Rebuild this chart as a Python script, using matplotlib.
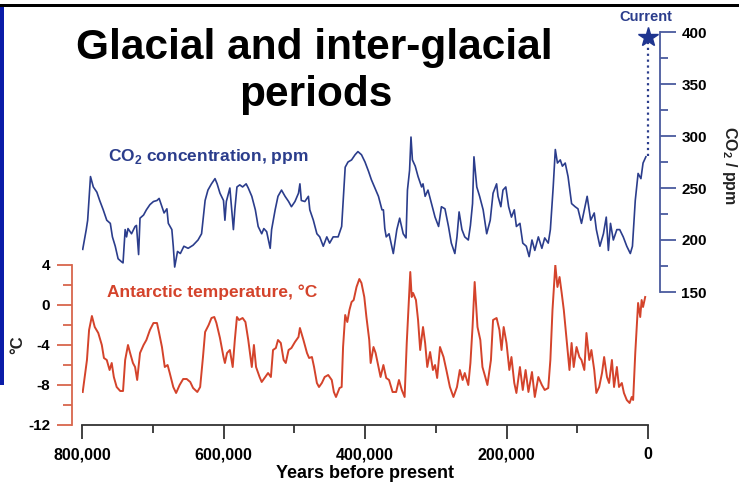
import numpy as np
import matplotlib
matplotlib.use("Agg")
from matplotlib import pyplot as plt
from matplotlib.patches import Rectangle
from matplotlib.ticker import MultipleLocator, StrMethodFormatter

plt.rcParams['font.family'] = ['Liberation Sans', 'DejaVu Sans']
plt.rcParams['font.weight'] = 'bold'
plt.rcParams['axes.unicode_minus'] = False
plt.rcParams['mathtext.fontset'] = 'custom'
plt.rcParams['mathtext.rm'] = 'Liberation Sans:bold'
plt.rcParams['mathtext.bf'] = 'Liberation Sans:bold'

# CO2 record (age in kyr before present, ppm)
co2_age = [799, 794, 792, 788, 784, 779, 775, 770, 765, 760, 757, 753, 749, 744, 742,
           739, 737, 735, 730, 725, 723, 720, 718, 713, 709, 704, 699, 694, 691, 687,
           684, 680, 678, 673, 671, 669, 665, 661, 656, 650, 643, 636, 631, 626, 622,
           617, 612, 609, 605, 600, 598, 596, 593, 591, 588, 586, 584, 581, 577, 573,
           568, 565, 560, 555, 551, 546, 543, 539, 534, 532, 527, 523, 518, 513, 508,
           504, 499, 494, 492, 490, 485, 480, 478, 473, 468, 464, 459, 454, 450, 445,
           438, 433, 428, 424, 419, 414, 410, 405, 400, 395, 391, 386, 381, 376, 374,
           372, 370, 366, 360, 355, 351, 346, 342, 340, 337, 335, 333, 329, 325, 320,
           318, 315, 311, 306, 301, 296, 292, 287, 282, 278, 273, 270, 267, 263, 259,
           254, 251, 248, 246, 242, 238, 233, 228, 223, 219, 214, 212, 208, 205, 201,
           197, 193, 189, 186, 181, 177, 172, 168, 164, 160, 155, 150, 146, 141, 138,
           134, 131, 128, 124, 121, 117, 113, 108, 103, 99, 94, 90, 86, 81, 76,
           73, 68, 63, 59, 56, 53, 49, 44, 40, 35, 30, 25, 22, 18, 14,
           10, 7, 3]
co2_ppm = [191, 210, 219, 261, 251, 246, 238, 229, 219, 216, 203, 194, 182, 179, 178,
           210, 203, 211, 206, 213, 214, 186, 221, 224, 229, 234, 237, 238, 240, 232,
           226, 230, 216, 210, 194, 174, 189, 187, 194, 192, 195, 200, 206, 238, 248,
           254, 259, 254, 245, 238, 219, 237, 245, 250, 226, 210, 229, 251, 253, 251,
           254, 250, 242, 229, 213, 206, 211, 208, 192, 210, 229, 242, 248, 242, 237,
           232, 237, 245, 254, 238, 237, 242, 229, 219, 206, 203, 194, 203, 197, 203,
           203, 213, 270, 275, 277, 282, 285, 282, 275, 266, 258, 250, 242, 229, 229,
           211, 203, 206, 187, 210, 221, 206, 202, 248, 267, 299, 277, 271, 261, 251,
           254, 242, 248, 235, 222, 213, 232, 230, 213, 197, 187, 203, 227, 210, 203,
           200, 214, 235, 280, 251, 242, 229, 206, 219, 245, 254, 242, 232, 248, 251,
           232, 222, 229, 213, 216, 197, 194, 184, 200, 190, 203, 192, 202, 197, 210,
           251, 287, 274, 277, 271, 274, 261, 235, 232, 230, 216, 229, 242, 219, 226,
           210, 194, 206, 222, 190, 216, 200, 210, 210, 203, 194, 187, 194, 238, 264,
           259, 274, 280]

# Antarctic temperature anomaly (age in kyr before present, deg C)
temp_age = [799, 793, 790, 786, 782, 777, 772, 769, 765, 761, 758, 755, 751, 746, 742,
            739, 735, 732, 728, 725, 722, 718, 713, 709, 704, 699, 694, 691, 687, 683,
            679, 676, 671, 667, 662, 657, 652, 647, 643, 637, 633, 629, 626, 621, 617,
            613, 610, 605, 600, 598, 595, 591, 587, 584, 581, 578, 573, 569, 565, 560,
            557, 554, 549, 546, 541, 537, 533, 530, 526, 523, 519, 515, 512, 508, 504,
            499, 494, 492, 487, 482, 479, 475, 472, 468, 465, 461, 457, 452, 447, 444,
            441, 436, 433, 431, 428, 425, 422, 419, 416, 412, 408, 405, 401, 398, 394,
            392, 388, 385, 381, 378, 374, 370, 366, 361, 356, 352, 348, 344, 341, 336,
            334, 332, 328, 325, 322, 318, 315, 312, 308, 304, 301, 298, 294, 289, 285,
            280, 275, 270, 266, 262, 259, 254, 251, 248, 245, 241, 237, 234, 230, 227,
            222, 219, 214, 210, 207, 204, 200, 196, 193, 189, 186, 181, 177, 173, 169,
            164, 160, 155, 150, 146, 141, 138, 135, 131, 128, 125, 122, 119, 115, 111,
            108, 105, 101, 97, 94, 90, 87, 83, 80, 76, 73, 69, 65, 62, 58,
            55, 51, 48, 44, 41, 37, 34, 30, 26, 23, 21, 18, 16, 14, 11,
            9, 7, 4]
temp_c = [-8.7, -5.5, -2.5, -1.1, -2.2, -2.8, -4.0, -5.3, -5.5, -6.5, -5.8, -7.2, -8.2, -8.6, -8.6,
          -5.5, -4.0, -4.8, -5.8, -6.2, -7.5, -4.8, -4.0, -3.5, -2.5, -1.8, -1.8, -2.8, -4.2, -6.2,
          -6.0, -6.8, -8.2, -8.8, -8.0, -7.4, -7.4, -7.7, -8.3, -8.7, -8.2, -5.2, -2.7, -2.0, -1.3,
          -1.2, -1.8, -3.3, -5.2, -5.8, -4.8, -4.5, -6.2, -3.5, -1.2, -1.5, -1.3, -1.7, -3.5, -6.2,
          -4.0, -6.2, -7.2, -7.7, -7.2, -6.8, -7.2, -4.5, -4.3, -3.5, -3.8, -5.5, -5.8, -4.5, -4.3,
          -3.7, -3.2, -2.3, -3.5, -4.8, -5.3, -5.2, -6.2, -7.8, -8.2, -7.8, -7.2, -7.0, -7.5, -8.7,
          -9.2, -8.3, -8.2, -4.2, -1.0, -1.7, -0.5, 0.3, 0.5, 1.8, 2.6, 2.2, 0.8, -1.2, -3.5,
          -5.8, -4.2, -4.8, -6.2, -7.2, -6.0, -7.3, -7.5, -8.7, -8.7, -7.5, -8.5, -9.2, -3.8, 3.3,
          0.8, 1.2, 0.5, -1.5, -4.5, -2.2, -3.8, -6.2, -4.7, -6.5, -6.0, -7.3, -4.2, -5.2, -6.5,
          -8.2, -9.2, -8.2, -6.5, -7.5, -6.8, -8.0, -5.8, -2.2, 2.3, -2.2, -3.5, -6.2, -7.2, -8.0,
          -5.5, -1.5, -1.3, -2.5, -4.5, -2.2, -3.8, -6.5, -5.2, -7.8, -8.8, -6.2, -8.5, -6.5, -8.7,
          -6.7, -9.2, -7.2, -8.0, -8.5, -8.3, -5.5, -0.5, 4.0, 1.8, 2.8, 1.2, -0.5, -3.5, -6.5,
          -3.8, -6.2, -4.2, -5.2, -5.5, -6.5, -2.8, -5.5, -4.5, -6.5, -8.8, -8.2, -6.8, -5.2, -7.2,
          -7.8, -5.5, -8.2, -6.2, -8.2, -7.8, -8.8, -9.5, -9.8, -9.2, -9.5, -4.8, -2.2, 0.2, -1.2,
          0.5, -0.2, 0.8]

current_ppm = 395
co2_last_ppm = 281

W, H = 739, 483
blue = '#2b3d8c'
red = '#d4432b'
red_axis = '#d8664c'
blue_axis = '#4a5b9e'


def fx(x):
    return x / W


def fy(y):
    return 1 - y / H


fig = plt.figure(figsize=(W / 100, H / 100), dpi=100)

# slide decorations: black top rule and blue left bar
fig.add_artist(Rectangle((0, fy(7)), 1, 3 / H, transform=fig.transFigure, color='black', lw=0))
fig.add_artist(Rectangle((0, fy(385)), 4 / W, 378 / H, transform=fig.transFigure, color='#0a1ca8', lw=0))

ax_t = fig.add_axes([fx(82), fy(425), fx(648) - fx(82), fy(265) - fy(425)])
ax_c = fig.add_axes([fx(82), fy(292), fx(648) - fx(82), fy(32) - fy(292)])
for ax in (ax_t, ax_c):
    ax.patch.set_alpha(0)
    ax.set_xlim(800000, 0)

# temperature
ax_t.plot(np.array(temp_age) * 1000, temp_c, color=red, lw=1.4)
ax_t.set_ylim(-12, 4)
ax_t.spines['top'].set_visible(False)
ax_t.spines['right'].set_visible(False)
ax_t.spines['left'].set_position(('outward', 7.2))
ax_t.spines['left'].set_color(red_axis)
ax_t.spines['left'].set_linewidth(1.3)
ax_t.spines['bottom'].set_color('#333333')
ax_t.spines['bottom'].set_linewidth(1.3)
ax_t.yaxis.set_major_locator(MultipleLocator(4))
ax_t.yaxis.set_minor_locator(MultipleLocator(2))
ax_t.tick_params(axis='y', which='major', length=10.8, width=1.3, color=red_axis, pad=5, labelsize=11)
ax_t.tick_params(axis='y', which='minor', length=6.5, width=1.3, color=red_axis)
ax_t.xaxis.set_major_locator(MultipleLocator(200000))
ax_t.xaxis.set_minor_locator(MultipleLocator(100000))
ax_t.xaxis.set_major_formatter(StrMethodFormatter('{x:,.0f}'))
ax_t.tick_params(axis='x', which='major', length=10, width=1.3, color='#333333', pad=6, labelsize=11.5)
ax_t.tick_params(axis='x', which='minor', length=5.8, width=1.3, color='#333333')
ax_t.set_xlabel('Years before present', fontsize=13, fontweight='bold', labelpad=2)

# CO2
ax_c.plot(np.array(co2_age) * 1000, co2_ppm, color=blue, lw=1.2)
ax_c.plot([0, 0], [co2_last_ppm, current_ppm], ls=':', color=blue, lw=1.6, clip_on=False)
ax_c.plot([0], [current_ppm], marker='*', ms=15, color='#1f3590', clip_on=False)
ax_c.set_ylim(150, 400)
for s in ('top', 'left', 'bottom'):
    ax_c.spines[s].set_visible(False)
ax_c.spines['right'].set_position(('outward', 8.6))
ax_c.spines['right'].set_color(blue_axis)
ax_c.spines['right'].set_linewidth(1.3)
ax_c.yaxis.tick_right()
ax_c.set_xticks([])
ax_c.yaxis.set_major_locator(MultipleLocator(50))
ax_c.yaxis.set_minor_locator(MultipleLocator(25))
ax_c.tick_params(axis='y', which='major', length=11.5, width=1.3, color=blue_axis, pad=4, labelsize=11)
ax_c.tick_params(axis='y', which='minor', length=5.8, width=1.3, color=blue_axis)

# texts
title_kw = dict(ha='center', va='baseline', fontsize=30.5, fontweight='bold', color='black')
fig.text(fx(314), fy(59), 'Glacial and inter-glacial', **title_kw)
fig.text(fx(316), fy(106), 'periods', **title_kw)
fig.text(fx(108), fy(157), r'CO$_\mathbf{2}$ concentration, ppm', ha='left', va='center',
         fontsize=12.5, fontweight='bold', color=blue)
fig.text(fx(107), fy(292), 'Antarctic temperature, °C', ha='left', va='center',
         fontsize=12.5, fontweight='bold', color=red)
fig.text(fx(646), fy(17), 'Current', ha='center', va='center', fontsize=10.5,
         fontweight='bold', color='#2b3d8c')
fig.text(fx(729), fy(165), r'CO$_\mathbf{2}$ / ppm', ha='center', va='center', rotation=270,
         fontsize=11.5, fontweight='bold', color='#222222')
fig.text(fx(18), fy(345), '°C', ha='center', va='center', rotation=90,
         fontsize=12, fontweight='bold', color='#222222')

fig.savefig('out.png', dpi=100)
